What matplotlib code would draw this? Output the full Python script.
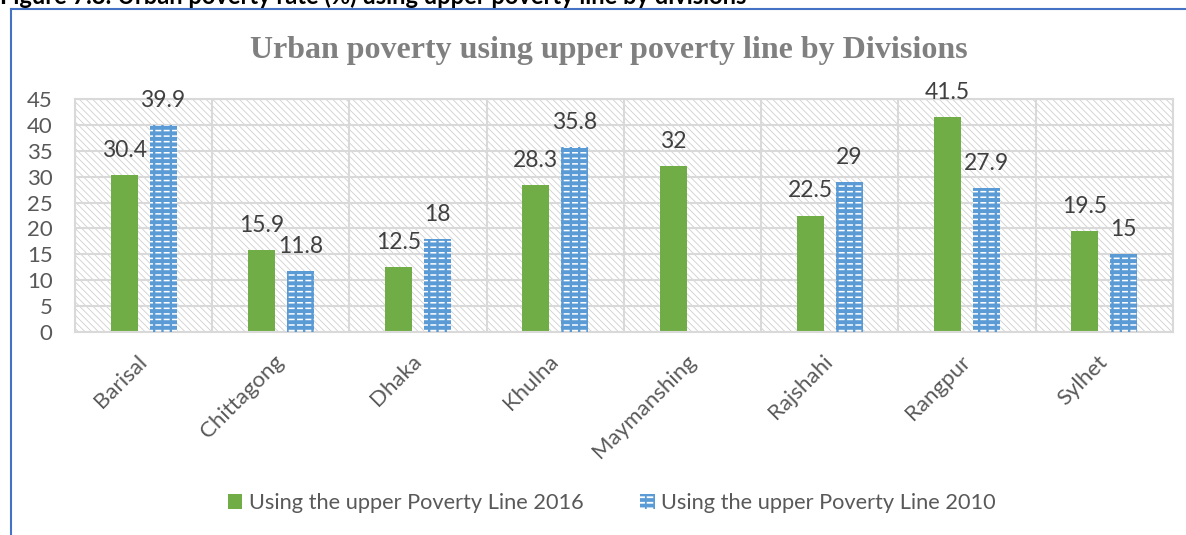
import numpy as np
import matplotlib
matplotlib.use("Agg")
import matplotlib.pyplot as plt
from matplotlib.patches import Patch, Rectangle
from matplotlib.lines import Line2D
from matplotlib.legend_handler import HandlerTuple

# Divisions and poverty rates (%)
divisions = ["Barisal", "Chittagong", "Dhaka", "Khulna", "Maymanshing",
             "Rajshahi", "Rangpur", "Sylhet"]
rate_2016 = [30.4, 15.9, 12.5, 28.3, 32, 22.5, 41.5, 19.5]
rate_2010 = [39.9, 11.8, 18, 35.8, np.nan, 29, 27.9, 15]
series_names = ["Using the upper Poverty Line 2016",
                "Using the upper Poverty Line 2010"]
y_ticks = list(range(0, 50, 5))

title = "Urban poverty using upper poverty line by Divisions"
caption = "Figure 7.8: Urban poverty rate (%) using upper poverty line by divisions"

GREEN = "#70ad47"
BLUE = "#5b9bd5"
GRID = "#d9d9d9"
TEXT = "#595959"
LABEL = "#404040"
FRAME = "#4472c4"

plt.rcParams["font.family"] = ["Lato", "DejaVu Sans"]
plt.rcParams["hatch.linewidth"] = 1.3

fig = plt.figure(figsize=(11.86, 5.35), dpi=100)
ax = fig.add_axes([0.0632, 0.3794, 0.9258, 0.4355])

x = np.arange(len(divisions))
w = 0.197
off = 0.142
v16 = np.array(rate_2016, dtype=float)
v10 = np.array(rate_2010, dtype=float)
m10 = ~np.isnan(v10)

# hatched plot-area background
bg = Rectangle((0, 0), 1, 1, transform=ax.transAxes, facecolor="white",
               edgecolor="#cfcfcf", hatch="\\\\\\\\\\", linewidth=0, zorder=0)
if hasattr(bg, "set_hatch_linewidth"):
    bg.set_hatch_linewidth(0.6)
ax.add_patch(bg)

ax.bar(x - off, v16, w, color=GREEN, zorder=2)
# 2010 bars: blue with rows of white dashes
b1 = ax.bar(x[m10] + off, v10[m10], w, facecolor=BLUE, edgecolor="white",
            hatch="---", linewidth=0, zorder=2)
b2 = ax.bar(x[m10] + off, v10[m10], w, facecolor="none", edgecolor=BLUE,
            hatch="||", linewidth=0, zorder=3)
for p in b1:
    if hasattr(p, "set_hatch_linewidth"):
        p.set_hatch_linewidth(1.1)
for p in b2:
    if hasattr(p, "set_hatch_linewidth"):
        p.set_hatch_linewidth(1.7)


def fmt(v):
    return f"{v:g}"


for xi, v in zip(x - off, v16):
    ax.annotate(fmt(v), (xi, v), xytext=(0, 13), textcoords="offset points",
                ha="center", va="baseline", fontsize=16.5, color=LABEL, zorder=4)
for xi, v in zip(x[m10] + off, v10[m10]):
    ax.annotate(fmt(v), (xi, v), xytext=(0, 13), textcoords="offset points",
                ha="center", va="baseline", fontsize=16.5, color=LABEL, zorder=4)

ax.set_xlim(-0.5, len(divisions) - 0.5)
ax.set_ylim(0, 45)
ax.set_yticks(y_ticks)
ax.set_xticks(x)
ax.set_xticklabels(divisions, rotation=45, ha="right", va="center",
                   rotation_mode="anchor", fontsize=16, color=TEXT)
ax.set_xticks(np.arange(-0.5, len(divisions), 1.0), minor=True)
ax.tick_params(axis="y", length=0, pad=16, labelsize=16, labelcolor=TEXT)
ax.tick_params(axis="x", which="both", length=0, pad=19)
ax.set_axisbelow(True)
ax.grid(axis="y", which="major", color=GRID, linewidth=1.5, zorder=1)
ax.grid(axis="x", which="minor", color=GRID, linewidth=1.5, zorder=1)
for s in ax.spines.values():
    s.set_color(GRID)
    s.set_linewidth(1.5)

fig.text(0.513, 0.906, title, ha="center", va="center", fontsize=23,
         fontweight="bold", color="#808080", family="Liberation Serif")

# caption above the frame
fig.text(0.0, 1 - 4 / 535, caption, ha="left", va="baseline", fontsize=17,
         fontweight="bold", color="black")
fig.add_artist(Line2D([11 / 1186, 11 / 1186], [0, 1 - 9 / 535],
                      transform=fig.transFigure, color=FRAME, linewidth=1.5))
fig.add_artist(Line2D([11 / 1186, 1], [1 - 9 / 535, 1 - 9 / 535],
                      transform=fig.transFigure, color=FRAME, linewidth=1.5))

h16 = Patch(facecolor=GREEN, edgecolor="none")
h10a = Patch(facecolor=BLUE, edgecolor="white", hatch="---", linewidth=0)
h10b = Patch(facecolor="none", edgecolor=BLUE, hatch="||", linewidth=0)
fig.legend([h16, (h10a, h10b)], series_names, loc="center",
           bbox_to_anchor=(0.516, 0.06), ncol=2, frameon=False,
           fontsize=15.7, labelcolor=TEXT, handlelength=0.65, handleheight=0.65,
           handletextpad=0.3, columnspacing=2.6,
           handler_map={tuple: HandlerTuple(ndivide=1)})

fig.savefig("out.png", dpi=100)
